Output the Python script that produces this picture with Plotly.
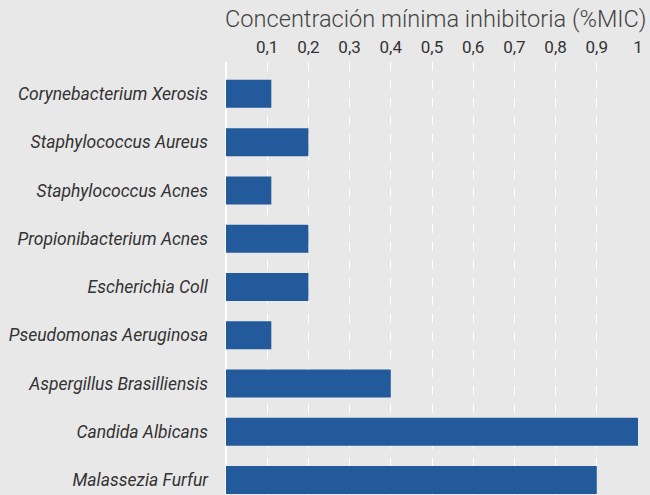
import plotly.graph_objects as go

categories = [
    "Corynebacterium Xerosis",
    "Staphylococcus Aureus",
    "Staphylococcus Acnes",
    "Propionibacterium Acnes",
    "Escherichia Coll",
    "Pseudomonas Aeruginosa",
    "Aspergillus Brasilliensis",
    "Candida Albicans",
    "Malassezia Furfur",
]
mic_values = [0.11, 0.2, 0.11, 0.2, 0.2, 0.11, 0.4, 1.0, 0.9]
tick_vals = [0.1, 0.2, 0.3, 0.4, 0.5, 0.6, 0.7, 0.8, 0.9, 1.0]
tick_text = ["0,1", "0,2", "0,3", "0,4", "0,5", "0,6", "0,7", "0,8", "0,9", "1"]
axis_title = "Concentración mínima inhibitoria (%MIC)"

fig = go.Figure(
    go.Bar(
        x=mic_values,
        y=categories,
        orientation="h",
        marker=dict(color="#235a9b", line=dict(width=0)),
        hoverinfo="x+y",
    )
)

fig.update_layout(
    width=650,
    height=495,
    margin=dict(l=226, r=12, t=62, b=0),
    paper_bgcolor="#e8e8e8",
    plot_bgcolor="#e8e8e8",
    bargap=0.42,
    showlegend=False,
    font=dict(family="Roboto", color="#333333", size=17),
    annotations=[
        dict(
            text=axis_title,
            xref="paper",
            yref="paper",
            x=1.0,
            xanchor="right",
            y=1,
            yanchor="bottom",
            yshift=27,
            xshift=10,
            showarrow=False,
            font=dict(size=23.6, color="#444444", weight=300),
        )
    ],
)

fig.update_xaxes(
    side="top",
    range=[0, 1.0],
    tickvals=tick_vals,
    ticktext=tick_text,
    tickfont=dict(size=17, color="#333333"),
    ticklabelstandoff=5,
    showgrid=True,
    gridcolor="#ffffff",
    griddash="dash",
    gridwidth=1,
    zeroline=True,
    zerolinecolor="#ffffff",
    zerolinewidth=2,
    showline=False,
    ticks="",
    fixedrange=True,
)

fig.update_yaxes(
    categoryorder="array",
    categoryarray=categories,
    range=[8.31, -0.66],
    tickfont=dict(size=17.5, color="#333333", style="italic"),
    ticklabelstandoff=17,
    showgrid=False,
    zeroline=False,
    showline=False,
    ticks="",
    fixedrange=True,
)

fig.write_html(
    "out.html",
    config={"displayModeBar": False},
    post_script="document.body.style.margin='0';document.body.style.background='#e8e8e8';",
)
